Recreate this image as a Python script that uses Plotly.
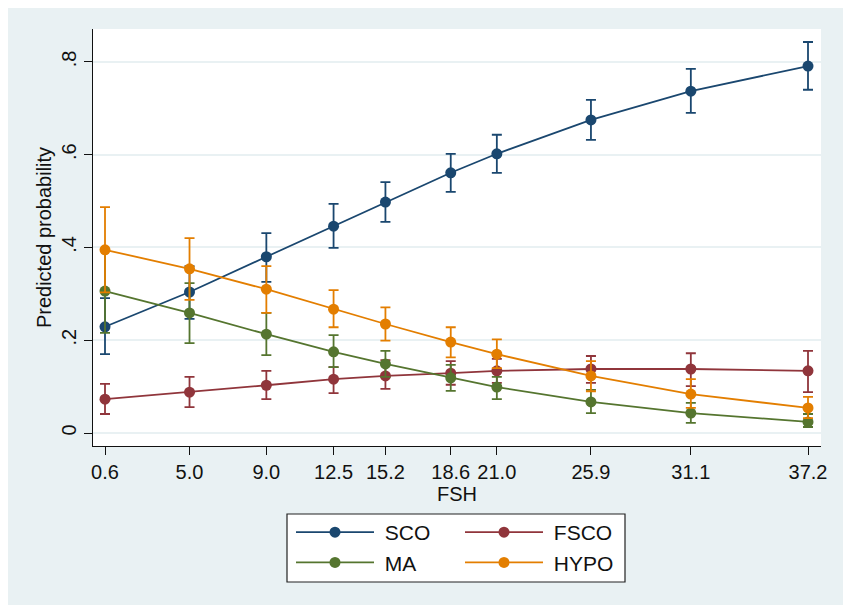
import plotly.graph_objects as go

# ---- data ----
fsh = [0.6, 5.0, 9.0, 12.5, 15.2, 18.6, 21.0, 25.9, 31.1, 37.2]

sco = [0.229, 0.304, 0.380, 0.446, 0.498, 0.561, 0.602, 0.675, 0.737, 0.791]
sco_hi = [0.291, 0.360, 0.431, 0.494, 0.541, 0.602, 0.643, 0.718, 0.785, 0.843]
sco_lo = [0.170, 0.246, 0.326, 0.399, 0.455, 0.520, 0.561, 0.632, 0.690, 0.740]

fsco = [0.073, 0.088, 0.103, 0.116, 0.123, 0.129, 0.134, 0.138, 0.138, 0.134]
fsco_hi = [0.106, 0.121, 0.134, 0.142, 0.157, 0.155, 0.160, 0.166, 0.172, 0.177]
fsco_lo = [0.041, 0.056, 0.073, 0.086, 0.095, 0.104, 0.108, 0.108, 0.101, 0.088]

ma = [0.306, 0.259, 0.213, 0.175, 0.149, 0.119, 0.099, 0.067, 0.043, 0.024]
ma_hi = [0.396, 0.323, 0.259, 0.211, 0.177, 0.147, 0.121, 0.093, 0.065, 0.041]
ma_lo = [0.216, 0.194, 0.168, 0.142, 0.121, 0.091, 0.073, 0.043, 0.022, 0.013]

hypo = [0.395, 0.354, 0.310, 0.267, 0.235, 0.196, 0.170, 0.123, 0.084, 0.054]
hypo_hi = [0.487, 0.420, 0.360, 0.308, 0.271, 0.228, 0.202, 0.155, 0.116, 0.078]
hypo_lo = [0.303, 0.287, 0.259, 0.228, 0.199, 0.163, 0.140, 0.090, 0.054, 0.032]

y_ticks = [0, 0.2, 0.4, 0.6, 0.8]
y_ticktext = ["0", ".2", ".4", ".6", ".8"]
x_ticktext = [f"{v:.1f}" for v in fsh]

FONT = "Liberation Sans, Arial, sans-serif"
BG = "#e9f1f3"

series = [
    ("SCO", sco, sco_hi, sco_lo, "#1a476f", "legend"),
    ("FSCO", fsco, fsco_hi, fsco_lo, "#90353b", "legend2"),
    ("MA", ma, ma_hi, ma_lo, "#55752f", "legend"),
    ("HYPO", hypo, hypo_hi, hypo_lo, "#e37e00", "legend2"),
]

fig = go.Figure()
for name, y, hi, lo, col, lg in series:
    fig.add_trace(go.Scatter(
        x=fsh, y=y, name="\u00a0" + name, mode="lines+markers",
        line=dict(color=col, width=1.8),
        marker=dict(color=col, size=11),
        error_y=dict(type="data", symmetric=False,
                     array=[h - v for h, v in zip(hi, y)],
                     arrayminus=[v - l for v, l in zip(y, lo)],
                     color=col, thickness=1.8, width=5),
        legend=lg,
    ))

W, H = 843, 607
L, R, T, B = 93, 22, 29, 161
pw, ph = W - L - R, H - T - B

def px(x):
    return (x - L) / pw

def py(y):
    return (H - B - y) / ph

shapes = [
    # white border strips outside the light panel
    dict(type="rect", xref="paper", yref="paper", x0=px(0), x1=px(8), y0=py(H), y1=py(0),
         fillcolor="white", line=dict(width=0), layer="below"),
    dict(type="rect", xref="paper", yref="paper", x0=px(0), x1=px(W), y0=py(8), y1=py(0),
         fillcolor="white", line=dict(width=0), layer="below"),
    dict(type="rect", xref="paper", yref="paper", x0=px(0), x1=px(W), y0=py(H), y1=py(605),
         fillcolor="white", line=dict(width=0), layer="below"),
    # legend box
    dict(type="rect", xref="paper", yref="paper", x0=px(287), x1=px(625), y0=py(582), y1=py(514),
         fillcolor="white", line=dict(color="#222222", width=1.2), layer="below"),
]

legend_common = dict(
    orientation="v", bgcolor="rgba(0,0,0,0)", borderwidth=0,
    font=dict(family=FONT, size=21, color="#111111"),
    itemwidth=78, yanchor="top", xanchor="left", tracegroupgap=0,
)

fig.update_layout(
    width=W, height=H,
    margin=dict(l=L, r=R, t=T, b=B),
    paper_bgcolor=BG, plot_bgcolor="white",
    font=dict(family=FONT, size=20, color="#111111"),
    showlegend=True,
    legend=dict(x=px(291), y=py(512), **legend_common),
    legend2=dict(x=px(460), y=py(512), **legend_common),
    shapes=shapes,
    xaxis=dict(
        range=[-0.025, 37.877], tickvals=fsh, ticktext=x_ticktext,
        showgrid=False, zeroline=False, showline=True, linecolor="#111111", linewidth=1.3,
        ticks="outside", ticklen=8, tickcolor="#111111", tickwidth=1.3,
        tickfont=dict(size=20),
        title=dict(text="FSH", font=dict(size=20), standoff=0),
    ),
    yaxis=dict(
        range=[-0.028, 0.871], tickvals=y_ticks, ticktext=y_ticktext,
        showgrid=True, gridcolor=BG, gridwidth=1.5, zeroline=False,
        showline=True, linecolor="#111111", linewidth=1.3,
        ticks="outside", ticklen=8, tickcolor="#111111", tickwidth=1.3,
        tickangle=-90, tickfont=dict(size=20),
        title=dict(text="Predicted probability", font=dict(size=20), standoff=0),
    ),
)

fig.write_html("out.html")
